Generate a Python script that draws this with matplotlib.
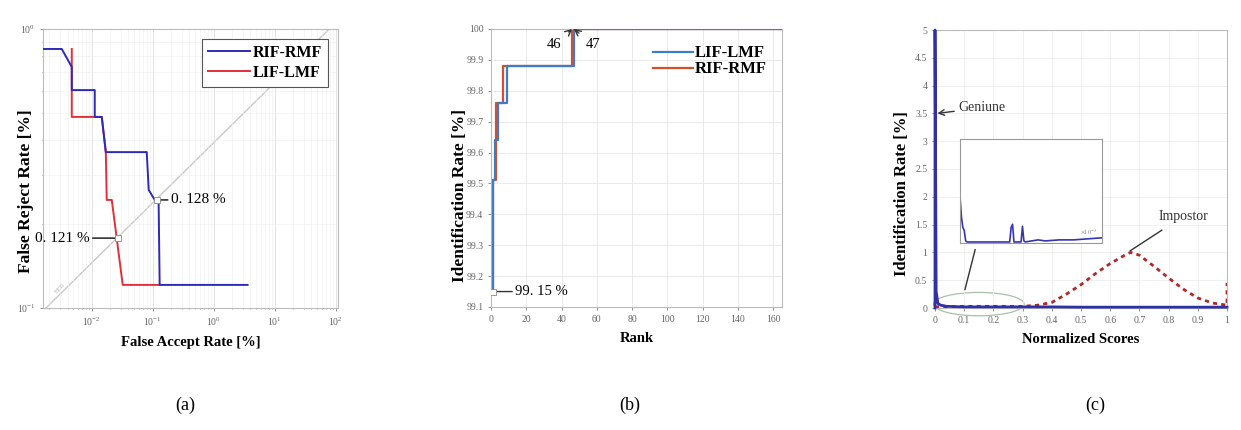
import matplotlib
matplotlib.use("Agg")
import matplotlib.pyplot as plt
from matplotlib.patches import Ellipse
from matplotlib.ticker import NullFormatter, LogLocator
import numpy as np

plt.rcParams['font.family'] = ['Liberation Serif', 'DejaVu Serif']
plt.rcParams['mathtext.fontset'] = 'stix'

# ---------------- data: panel (a) DET ----------------
far_rif = [0.00157, 0.00322, 0.0047, 0.0047, 0.0112, 0.0112, 0.0146, 0.0170,
           0.0798, 0.0860, 0.108, 0.125, 0.130, 3.6]
frr_rif = [0.848, 0.848, 0.731, 0.604, 0.604, 0.484, 0.484, 0.362,
           0.362, 0.265, 0.244, 0.240, 0.121, 0.121]
far_lif = [0.0047, 0.0047, 0.0146, 0.0170, 0.0176, 0.0213, 0.0322, 0.130]
frr_lif = [0.848, 0.484, 0.484, 0.362, 0.244, 0.244, 0.121, 0.121]
eer_rif = (0.116, 0.244)
eer_lif = (0.0267, 0.178)

# ---------------- data: panel (b) CMC ----------------
rank_lif = [1, 1, 2, 4, 9, 47, 165]
ir_lif = [99.15, 99.51, 99.64, 99.76, 99.88, 100.0, 100.0]
rank_rif = [1, 1, 3, 7, 46, 165]
ir_rif = [99.15, 99.51, 99.76, 99.88, 100.0, 100.0]

# ---------------- data: panel (c) score distributions ----------------
gen_x = [0.0, 0.0, 0.004, 0.01, 0.02, 0.04, 0.1, 0.2, 0.3, 0.4, 0.5, 0.6, 0.7, 0.8, 0.9, 1.0]
gen_y = [0.0, 5.0, 0.30, 0.08, 0.05, 0.03, 0.02, 0.02, 0.02, 0.02, 0.015, 0.015, 0.015, 0.015, 0.015, 0.015]
imp_x = [0.0, 0.1, 0.2, 0.3, 0.35, 0.4, 0.45, 0.5, 0.55, 0.6, 0.65, 0.67, 0.7,
         0.75, 0.8, 0.85, 0.9, 0.95, 1.0, 1.0]
imp_y = [0.02, 0.03, 0.03, 0.03, 0.05, 0.10, 0.25, 0.42, 0.62, 0.80, 0.95, 1.0, 0.95,
         0.75, 0.54, 0.34, 0.18, 0.09, 0.05, 0.45]
ins_x = [0.0, 0.0, 0.01, 0.02, 0.03, 0.04, 0.05, 0.35, 0.36, 0.37, 0.38, 0.43, 0.44, 0.45,
         0.46, 0.55, 0.6, 0.7, 0.8, 0.9, 1.0]
ins_y = [0.0, 0.45, 0.25, 0.15, 0.12, 0.02, 0.01, 0.01, 0.15, 0.18, 0.01, 0.01, 0.16, 0.02,
         0.01, 0.03, 0.02, 0.03, 0.03, 0.04, 0.05]

BLUE_A = '#2b2bb8'
RED_A = '#e0303a'
BLUE_B = '#3f7cc4'
RED_B = '#d2502e'
TICKC = '#666666'

fig = plt.figure(figsize=(12.41, 4.30), dpi=100)
W, H = 1241, 430

def add_ax(l, t, r, b):
    return fig.add_axes([l / W, 1 - b / H, (r - l) / W, (b - t) / H])

def style(ax):
    for s in ax.spines.values():
        s.set_color('#bbbbbb')
        s.set_linewidth(0.8)
    ax.tick_params(colors=TICKC, labelsize=7, length=2, width=0.5)
    ax.tick_params(which='minor', length=1, width=0.4, colors=TICKC)

# ---------------- (a) ----------------
axa = add_ax(43, 29, 338, 308)
axa.set_xscale('log')
axa.set_yscale('log')
axa.set_xlim(10 ** -2.8, 10 ** 2.04)
axa.set_ylim(0.1, 1.0)
axa.yaxis.set_major_locator(LogLocator(base=10, numticks=5))
axa.xaxis.set_minor_formatter(NullFormatter())
axa.yaxis.set_minor_formatter(NullFormatter())
axa.grid(True, which='major', color='#dddddd', lw=0.6)
axa.grid(True, which='minor', color='#eeeeee', lw=0.4)
axa.plot([0.01, 0.97], [0, 1], transform=axa.transAxes, color='#c8c8c8', lw=1.0, zorder=1)
axa.text(0.06, 0.07, 'EER', transform=axa.transAxes, rotation=45, fontsize=5,
         color='#bbbbbb', ha='center', va='center')
axa.plot(far_rif, frr_rif, color=BLUE_A, lw=1.4, label='RIF-RMF', zorder=3)
axa.plot(far_lif, frr_lif, color=RED_A, lw=1.4, label='LIF-LMF', zorder=2)
axa.plot(*eer_rif, marker='s', ms=4, mfc='white', mec='#888888', mew=0.6, zorder=4)
axa.plot(*eer_lif, marker='s', ms=4, mfc='white', mec='#888888', mew=0.6, zorder=4)
axa.annotate('0. 128 %', xy=eer_rif, xytext=(10, 0), textcoords='offset points',
             fontsize=11, va='center', ha='left',
             arrowprops=dict(arrowstyle='-', color='#333333', lw=1.2, shrinkA=0, shrinkB=2))
axa.annotate('0. 121 %', xy=eer_lif, xytext=(-20, 0), textcoords='offset points',
             fontsize=11, va='center', ha='right',
             arrowprops=dict(arrowstyle='-', color='#333333', lw=1.2, shrinkA=0, shrinkB=2))
leg = axa.legend(loc='upper right', prop={'weight': 'bold', 'size': 11.5},
                 handlelength=2.6, handletextpad=0.2, borderpad=0.4, labelspacing=0.25,
                 fancybox=False, edgecolor='#555555', framealpha=1, borderaxespad=0.6)
leg.get_frame().set_linewidth(0.8)
axa.set_ylabel('False Reject Rate [%]', fontsize=12.5, fontweight='bold')
axa.yaxis.set_label_coords(-0.03, 0.42)
axa.set_xlabel('False Accept Rate [%]', fontsize=10.5, fontweight='bold', labelpad=6)
style(axa)

# ---------------- (b) ----------------
axb = add_ax(491, 29, 782, 307)
axb.set_xlim(0, 165)
axb.set_ylim(99.1, 100.0)
axb.set_xticks(np.arange(0, 161, 20))
axb.set_yticks(np.round(np.arange(99.1, 100.01, 0.1), 1))
axb.set_yticklabels(['99.1', '99.2', '99.3', '99.4', '99.5', '99.6', '99.7', '99.8', '99.9', '100'])
axb.grid(True, color='#e6e6e6', lw=0.6)
axb.step(rank_lif, ir_lif, where='post', color=BLUE_B, lw=1.6, label='LIF-LMF', zorder=3)
axb.step(rank_rif, ir_rif, where='post', color=RED_B, lw=1.6, label='RIF-RMF', zorder=2)
axb.plot(1, 99.15, marker='s', ms=4.5, mfc='white', mec='#888888', mew=0.6, zorder=4)
axb.annotate('99. 15 %', xy=(1, 99.15), xytext=(16, 0), textcoords='offset points',
             fontsize=10.5, va='center', ha='left',
             arrowprops=dict(arrowstyle='-', color='#333333', lw=1.0, shrinkA=0, shrinkB=3))
axb.annotate('46', xy=(46, 100.0), xytext=(36, 99.95), fontsize=10.5, ha='center', va='center',
             arrowprops=dict(arrowstyle='->', color='#333333', lw=1.0, shrinkA=4, shrinkB=0))
axb.annotate('47', xy=(47, 100.0), xytext=(58, 99.95), fontsize=10.5, ha='center', va='center',
             arrowprops=dict(arrowstyle='->', color='#333333', lw=1.0, shrinkA=4, shrinkB=0))
axb.legend(loc='upper right', frameon=False, prop={'weight': 'bold', 'size': 12},
           handlelength=2.4, handletextpad=0.1, labelspacing=0.0,
           bbox_to_anchor=(1.0, 0.995))
axb.set_ylabel('Identification Rate [%]', fontsize=12.5, fontweight='bold')
axb.yaxis.set_label_coords(-0.08, 0.4)
axb.set_xlabel('Rank', fontsize=10.5, fontweight='bold', labelpad=6)
style(axb)

# ---------------- (c) ----------------
axc = add_ax(935, 30, 1227, 308)
axc.set_xlim(0, 1)
axc.set_ylim(0, 5)
axc.set_xticks(np.round(np.arange(0, 1.01, 0.1), 1))
axc.set_xticklabels(['0', '0.1', '0.2', '0.3', '0.4', '0.5', '0.6', '0.7', '0.8', '0.9', '1'])
axc.set_yticks(np.arange(0, 5.01, 0.5))
axc.set_yticklabels(['0', '0.5', '1', '1.5', '2', '2.5', '3', '3.5', '4', '4.5', '5'])
axc.grid(True, color='#eeeeee', lw=0.6)
axc.plot(imp_x, imp_y, color='#b02828', lw=2.0, ls=(0, (1.5, 1.5)), zorder=3)
axc.plot(gen_x, gen_y, color='#3030a8', lw=2.0, zorder=4, clip_on=False)
axc.add_patch(Ellipse((0.15, 0.07), 0.31, 0.42, fill=False, ec='#a8c0a8', lw=0.9, clip_on=False))
axc.annotate('Geniune', xy=(0.008, 3.5), xytext=(0.08, 3.6), fontsize=10, color='#333333',
             ha='left', va='center',
             arrowprops=dict(arrowstyle='->', color='#333333', lw=1.0, shrinkA=1, shrinkB=0))
axc.annotate('Impostor', xy=(0.66, 1.0), xytext=(0.85, 1.65), fontsize=10, color='#333333',
             ha='center', va='center',
             arrowprops=dict(arrowstyle='-', color='#333333', lw=1.0, shrinkA=6, shrinkB=2))
axc.annotate('', xy=(0.14, 1.1), xytext=(0.1, 0.28),
             arrowprops=dict(arrowstyle='-', color='#333333', lw=1.0))
axc.set_ylabel('Identification Rate [%]', fontsize=12, fontweight='bold')
axc.yaxis.set_label_coords(-0.085, 0.41)
axc.set_xlabel('Normalized Scores', fontsize=10.5, fontweight='bold', labelpad=6)
style(axc)

# inset
axi = add_ax(960, 139, 1102, 243)
axi.plot(ins_x, ins_y, color='#3535b0', lw=1.2)
axi.set_xlim(0, 1)
axi.set_ylim(0, 1)
axi.set_xticks([])
axi.set_yticks([])
for s in axi.spines.values():
    s.set_color('#999999')
    s.set_linewidth(0.8)
axi.text(0.97, 0.07, r'$\times10^{-3}$', transform=axi.transAxes, fontsize=4.5,
         color='#888888', ha='right', va='bottom')

# captions
for x, lab in [(185, '(a)'), (630, '(b)'), (1095, '(c)')]:
    fig.text(x / W, 1 - 405 / H, lab, fontsize=13, ha='center', va='center')

fig.savefig('out.png', dpi=100, facecolor='white')
